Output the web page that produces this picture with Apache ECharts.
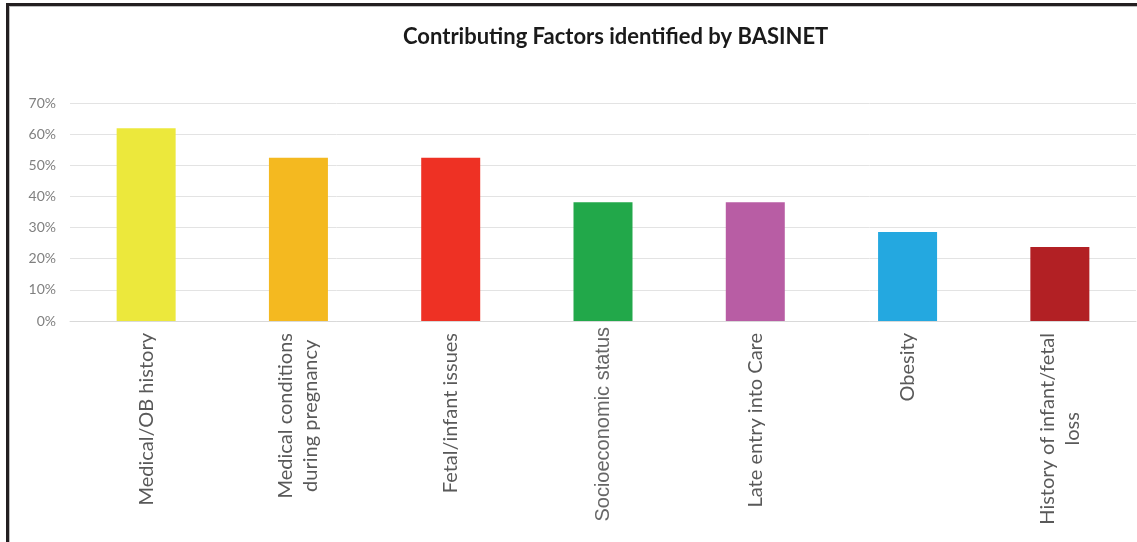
<!DOCTYPE html>
<html>
<head>
<meta charset="utf-8">
<script src="https://cdn.jsdelivr.net/npm/echarts@6/dist/echarts.min.js"></script>
<style>
  html, body { margin: 0; padding: 0; background: #ffffff; }
  #chart { width: 1137px; height: 542px; }
</style>
</head>
<body>
<div id="chart"></div>
<script>
// Contributing factors and the share of cases in which each was identified (%)
const factors = [
  'Medical/OB history',
  'Medical conditions\nduring pregnancy',
  'Fetal/infant issues',
  'Socioeconomic status',
  'Late entry into Care',
  'Obesity',
  'History of infant/fetal\nloss'
];
const shares = [61.9, 52.4, 52.4, 38.1, 38.1, 28.6, 23.8];
const barColors = ['#ECE83C', '#F4B920', '#EE3124', '#22A84A', '#B85DA4', '#24A8E0', '#B22024'];
const yTicks = [0, 10, 20, 30, 40, 50, 60, 70];

const chart = echarts.init(document.getElementById('chart'), null, { renderer: 'canvas' });

const option = {
  backgroundColor: '#ffffff',
  animation: false,
  title: {
    text: 'Contributing Factors identified by BASINET',
    left: 398,
    top: 21,
    textStyle: {
      fontFamily: 'Lato',
      fontWeight: 'bold',
      fontSize: 22,
      color: '#1a1a1a'
    }
  },
  grid: {
    left: 70,
    right: 1,
    top: 103,
    bottom: 221,
    containLabel: false
  },
  xAxis: {
    type: 'category',
    data: factors,
    axisLine: { show: true, lineStyle: { color: '#d9d9d9', width: 1 } },
    axisTick: { show: false },
    axisLabel: {
      interval: 0,
      rotate: 90,
      margin: 6,
      color: '#595959',
      fontFamily: 'Lato',
      fontSize: 20,
      lineHeight: 25,
      formatter: function (value) {
        if (value === 'Socioeconomic status') {
          return '{s|' + value + '}';
        }
        return value.split('\n').map(function (line) { return '{c|' + line + '}'; }).join('\n');
      },
      rich: {
        c: {
          align: 'center',
          color: '#595959',
          fontFamily: 'Lato',
          fontSize: 20,
          lineHeight: 25,
          padding: [0, 6, 0, 0]
        },
        s: {
          color: '#666666',
          fontFamily: 'Liberation Sans',
          fontSize: 20,
          lineHeight: 25
        }
      }
    }
  },
  yAxis: {
    type: 'value',
    min: yTicks[0],
    max: yTicks[yTicks.length - 1],
    interval: 10,
    axisLine: { show: false },
    axisTick: { show: false },
    axisLabel: {
      margin: 14,
      color: '#808080',
      fontFamily: 'Lato',
      fontSize: 14,
      formatter: '{value}%'
    },
    splitLine: { show: true, lineStyle: { color: '#e3e3e3', width: 1 } }
  },
  series: [{
    type: 'bar',
    barWidth: 59,
    data: shares.map(function (v, i) {
      return { value: v, itemStyle: { color: barColors[i] } };
    })
  }],
  graphic: [
    // dark frame along the top and left edges
    { type: 'rect', shape: { x: 6, y: 3, width: 1131, height: 3 }, style: { fill: '#231f20' }, silent: true },
    { type: 'rect', shape: { x: 6, y: 3, width: 3, height: 539 }, style: { fill: '#231f20' }, silent: true },
    { type: 'rect', shape: { x: 9, y: 6, width: 1128, height: 1 }, style: { fill: '#bdbdbd' }, silent: true },
    { type: 'rect', shape: { x: 9, y: 6, width: 1, height: 536 }, style: { fill: '#bdbdbd' }, silent: true }
  ]
};

chart.setOption(option);
</script>
</body>
</html>
